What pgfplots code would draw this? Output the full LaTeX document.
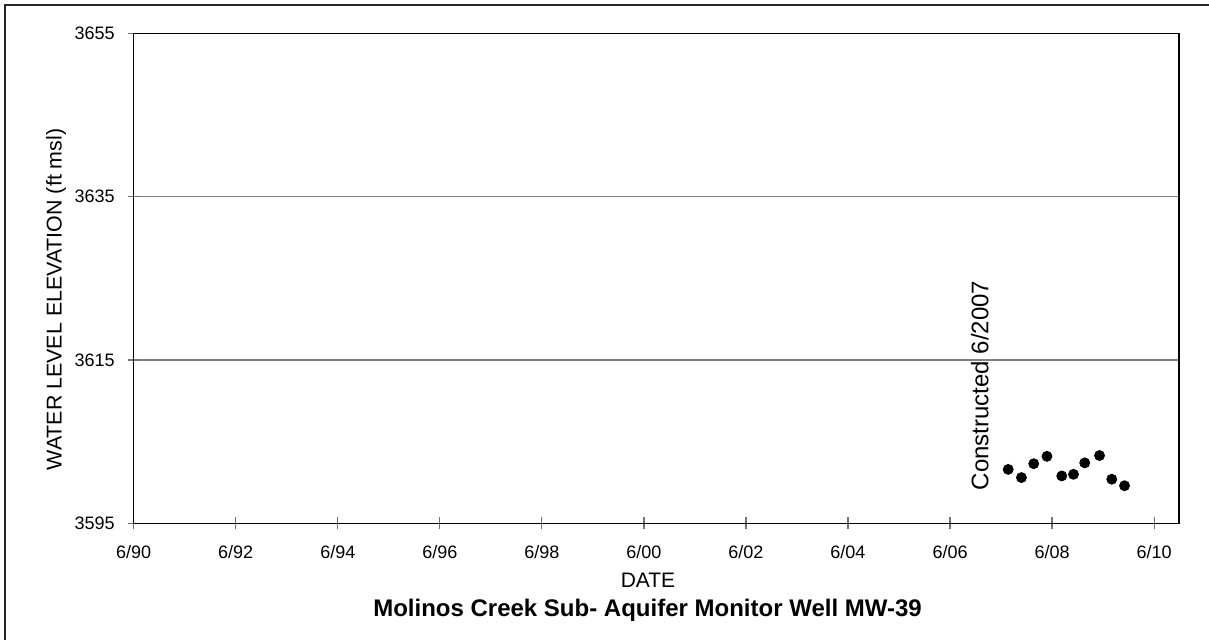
\documentclass[border=0pt]{standalone}
\usepackage{pgfplots}
\pgfplotsset{compat=1.18}
\usepackage{fontspec}
\setmainfont{Liberation Sans}

% water level elevations, x = years after June 1990
\pgfplotstableread{
x      y
17.14  3601.6
17.40  3600.6
17.64  3602.3
17.90  3603.2
18.19  3600.8
18.42  3601.0
18.64  3602.4
18.93  3603.3
19.17  3600.4
19.42  3599.6
}\wellMW

\begin{document}
\begin{tikzpicture}[x=1pt,y=1pt]
\useasboundingbox (0,0) rectangle (604.5,319.5);
% frame around the chart area
\draw[line width=0.9pt, black!85] (2.5,-2) -- (2.5,317) -- (610,317);

\begin{axis}[
  at={(66.85pt,57.85pt)}, anchor=south west,
  scale only axis, width=522.7pt, height=245pt,
  xmin=0, xmax=20.49, ymin=3595, ymax=3655,
  xtick={0,2,...,20},
  xticklabels={6/90,6/92,6/94,6/96,6/98,6/00,6/02,6/04,6/06,6/08,6/10},
  ytick={3595,3615,3635,3655},
  yticklabels={3595,3615,3635,3655},
  tick align=center, major tick length=6pt,
  tick style={black!55, line width=0.6pt},
  xtick pos=bottom, ytick pos=left,
  ymajorgrids, major grid style={black!50, line width=0.6pt},
  axis line style={black, line width=0.7pt},
  tick label style={font=\fontsize{9}{10}\selectfont},
  xticklabel style={yshift=-4.5pt},
  yticklabel style={xshift=-3pt},
  clip=false,
]
\addplot[only marks, mark=*, mark size=2.5pt, black] table[x=x,y=y]{\wellMW};
\node[rotate=90, anchor=base west, font=\fontsize{12}{14}\selectfont, inner sep=0pt]
  at (axis cs:16.75,3599) {Constructed 6/2007};
\end{axis}

\node[font=\fontsize{10.5}{12}\selectfont] at (324,29.5) {DATE};
\node[font=\bfseries\fontsize{12}{14}\selectfont] at (323.75,14.5)
  {Molinos Creek Sub- Aquifer Monitor Well MW-39};
\node[rotate=90, font=\fontsize{10.7}{12}\selectfont] at (28,169.75)
  {WATER LEVEL ELEVATION (ft msl)};
\end{tikzpicture}
\end{document}
